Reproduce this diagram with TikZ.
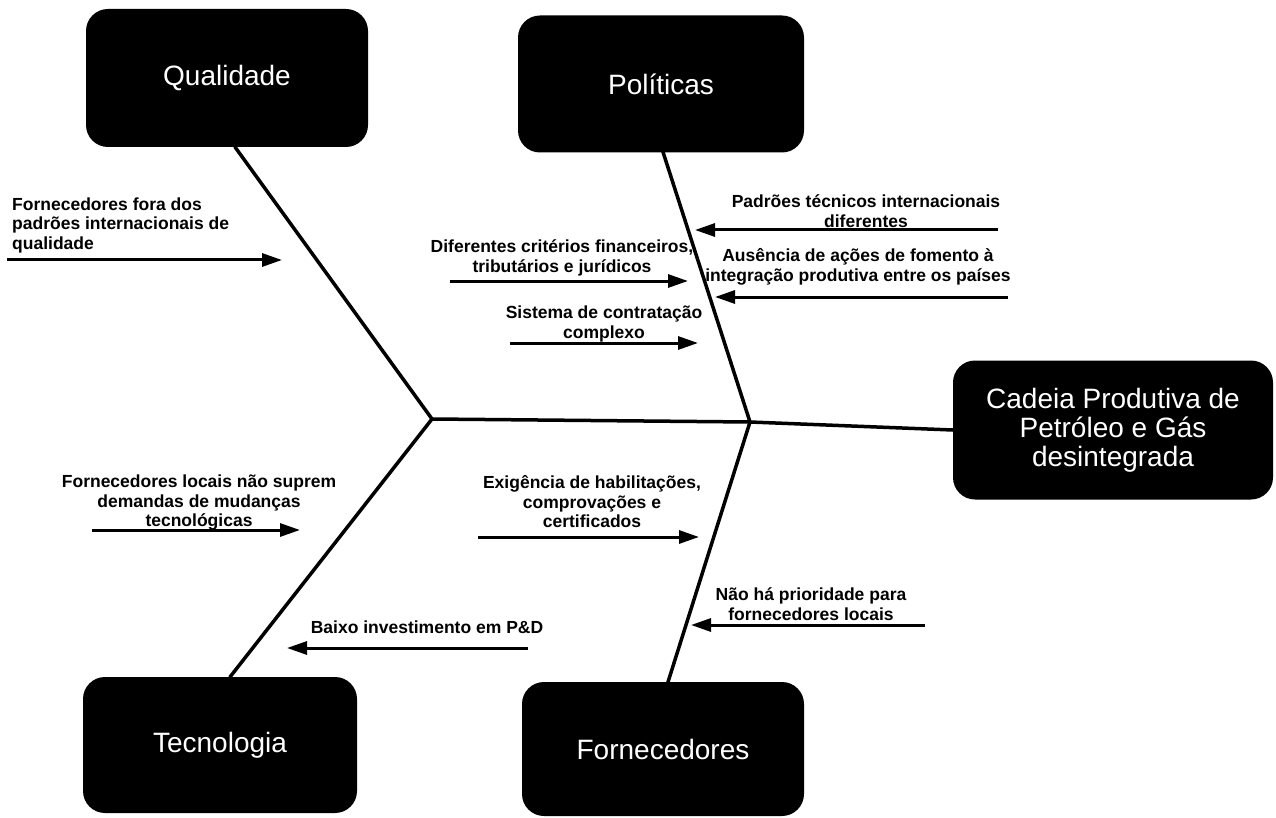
\documentclass[tikz,border=0pt]{standalone}
\usepackage{fontspec}
\setmainfont{Liberation Sans}
\usetikzlibrary{arrows.meta}
\begin{document}
\begin{tikzpicture}[x=1pt,y=-1pt,
  catbox/.style={draw=none, fill=black, rounded corners=22pt, text=white,
    font=\fontsize{28}{29}\selectfont, align=center, inner sep=0pt},
  bone/.style={line width=3.5pt, line cap=round},
  cause/.style={line width=3pt, -{Triangle[length=20pt,width=13pt]}},
  lbl/.style={font=\bfseries\fontsize{17.5}{19.5}\selectfont, align=center, inner sep=0pt}]
\useasboundingbox (0,0) rectangle (1276,818);
% category boxes
\node[catbox, minimum width=282pt, minimum height=138pt] (qual) at (227,78) {Qualidade};
\node[catbox, minimum width=286pt, minimum height=137pt] (pol) at (661,84) {Políticas};
\node[catbox, minimum width=274pt, minimum height=136pt] (tec) at (220,745) {Tecnologia};
\node[catbox, minimum width=282pt, minimum height=134pt] (forn) at (663,749) {Fornecedores};
\node[catbox, minimum width=320pt, minimum height=139pt] (cad) at (1113,430) {Cadeia Produtiva de\\Petróleo e Gás\\desintegrada};
% skeleton
\coordinate (v1) at (432,419);
\coordinate (v2) at (750,422);
\coordinate (qb) at (235,147);
\coordinate (pb) at (663,152);
\coordinate (tb) at (230,677);
\coordinate (fb) at (668,682);
\draw[bone] (v1) -- (v2) -- (cad.west);
\draw[bone] (qb) -- (v1) -- (tb);
\draw[bone] (pb) -- (v2) -- (fb);
% causes
\node[lbl, anchor=west, align=left] (t1) at (12,225) {Fornecedores fora dos\\padrões internacionais de\\qualidade};
\coordinate (a1s) at (7,260); \coordinate (a1e) at (282,260);
\draw[cause] (a1s) -- (a1e);

\node[lbl] (t2) at (562,258) {Diferentes critérios financeiros,\\tributários e jurídicos};
\coordinate (a2s) at (450,281); \coordinate (a2e) at (688,281);
\draw[cause] (a2s) -- (a2e);

\node[lbl] (t3) at (604,324) {Sistema de contratação\\complexo};
\coordinate (a3s) at (510,343); \coordinate (a3e) at (698,343);
\draw[cause] (a3s) -- (a3e);

\node[lbl] (t4) at (866,211) {Padrões técnicos internacionais\\diferentes};
\coordinate (a4s) at (998,230); \coordinate (a4e) at (695,230);
\draw[cause] (a4s) -- (a4e);

\node[lbl] (t5) at (858,267) {Ausência de ações de fomento à\\integração produtiva entre os países};
\coordinate (a5s) at (1008,297); \coordinate (a5e) at (715,297);
\draw[cause] (a5s) -- (a5e);

\node[lbl] (t6) at (199,503) {Fornecedores locais não suprem\\demandas de mudanças\\tecnológicas};
\coordinate (a6s) at (92,530); \coordinate (a6e) at (300,530);
\draw[cause] (a6s) -- (a6e);

\node[lbl] (t7) at (592,502) {Exigência de habilitações,\\comprovações e\\certificados};
\coordinate (a7s) at (478,537); \coordinate (a7e) at (699,537);
\draw[cause] (a7s) -- (a7e);

\node[lbl] (t8) at (811,604) {Não há prioridade para\\fornecedores locais};
\coordinate (a8s) at (925,625); \coordinate (a8e) at (691,625);
\draw[cause] (a8s) -- (a8e);

\node[lbl] (t9) at (427,627) {Baixo investimento em P\&D};
\coordinate (a9s) at (528,648); \coordinate (a9e) at (287,648);
\draw[cause] (a9s) -- (a9e);
\end{tikzpicture}
\end{document}
